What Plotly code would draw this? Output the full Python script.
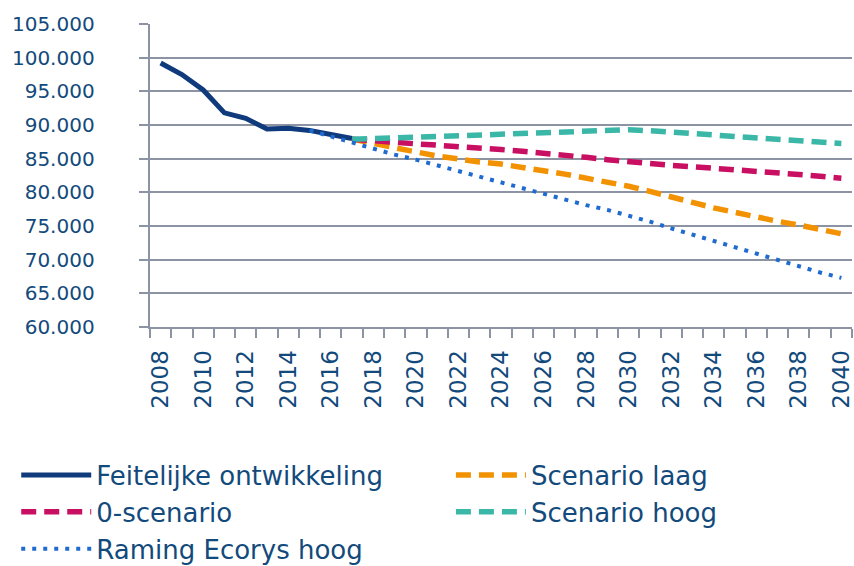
import plotly.graph_objects as go

# years on the x axis
years_actual = list(range(2008, 2018))
years_ecorys = list(range(2015, 2041))
years_scen = list(range(2017, 2041))
tick_years = list(range(2008, 2041, 2))

feitelijk = [99200, 97500, 95200, 91800, 91000, 89400, 89500, 89200, 88600, 88000]
scenario_laag = [87900, 87200, 86600, 86000, 85400, 84850, 84500, 84200, 83600, 83200,
                 82700, 82150, 81650, 80900, 80150, 79250, 78500, 77700, 77000, 76350,
                 75700, 75150, 74450, 73850]
nul_scenario = [87900, 87600, 87400, 87200, 87000, 86850, 86600, 86350, 86100, 85850,
                85500, 85200, 84850, 84500, 84300, 84000, 83800, 83600, 83400, 83150,
                82900, 82650, 82400, 82100]
scenario_hoog = [87900, 88050, 88150, 88200, 88300, 88400, 88500, 88600, 88700, 88800,
                 88950, 89100, 89250, 89300, 89150, 88950, 88800, 88600, 88400, 88150,
                 87900, 87650, 87450, 87250]
ecorys_hoog = [89200, 88300, 87300, 86400, 85600, 84850, 84000, 83200, 82300, 81400,
               80600, 79750, 78950, 78100, 77400, 76600, 75650, 74650, 73700, 72750,
               71800, 70850, 69950, 69000, 68100, 67300]

TEXT = '#134A7C'
GRID = '#8C93A2'
FONT = 'DejaVu Sans'

fig = go.Figure()

fig.add_trace(go.Scatter(x=years_actual, y=feitelijk, name='Feitelijke ontwikkeling',
                         mode='lines', line=dict(color='#0F3A7C', width=5),
                         legend='legend'))
fig.add_trace(go.Scatter(x=years_scen, y=scenario_laag, name='Scenario laag',
                         mode='lines', line=dict(color='#F39200', width=5.5, dash='15px,8px'),
                         legend='legend2'))
fig.add_trace(go.Scatter(x=years_scen, y=nul_scenario, name='0-scenario',
                         mode='lines', line=dict(color='#C80F62', width=5.5, dash='15px,8px'),
                         legend='legend'))
fig.add_trace(go.Scatter(x=years_scen, y=scenario_hoog, name='Scenario hoog',
                         mode='lines', line=dict(color='#3BB7A8', width=5.5, dash='15px,8px'),
                         legend='legend2'))
fig.add_trace(go.Scatter(x=years_ecorys, y=ecorys_hoog, name='Raming Ecorys hoog',
                         mode='lines', line=dict(color='#1F6BCF', width=4, dash='4px,7px'),
                         legend='legend'))

fig.update_layout(
    width=854, height=566,
    margin=dict(l=150, r=2, t=24, b=239, autoexpand=False),
    plot_bgcolor='white', paper_bgcolor='white',
    separators=',.',
    font=dict(family=FONT, color=TEXT, size=24),
    legend=dict(orientation='v', xref='container', yref='container',
                x=0.019, y=0.202, xanchor='left', yanchor='top',
                traceorder='normal', itemwidth=70,
                font=dict(size=26, color=TEXT, family=FONT)),
    legend2=dict(orientation='v', xref='container', yref='container',
                 x=0.528, y=0.202, xanchor='left', yanchor='top',
                 traceorder='normal', itemwidth=70,
                 font=dict(size=26, color=TEXT, family=FONT)),
)

fig.update_xaxes(
    range=[2007.5, 2040.5], automargin=False,
    tickmode='array', tickvals=tick_years, ticktext=[str(y) for y in tick_years],
    tickangle=-90, ticks='', showgrid=False,
    showline=True, linecolor=GRID, linewidth=2,
    ticklabelstandoff=12, ticklabeloverflow='allow',
    tickfont=dict(size=23, color=TEXT, family=FONT),
    minor=dict(tickmode='linear', tick0=2007.5, dtick=1, ticks='outside',
               ticklen=9, tickwidth=2, tickcolor=GRID, showgrid=False),
)

fig.update_yaxes(
    range=[60000, 105000], dtick=5000, tick0=60000, tickformat=',d',
    automargin=False,
    showgrid=True, gridcolor=GRID, gridwidth=2,
    showline=True, linecolor=GRID, linewidth=2,
    ticks='outside', ticklen=9, tickwidth=2, tickcolor=GRID,
    ticklabelstandoff=34, ticksuffix='\u00a0',
    tickfont=dict(size=20, color=TEXT, family=FONT),
    zeroline=False,
)

fig.write_html("out.html", config={'displayModeBar': False},
               post_script="document.body.style.margin='0';")
